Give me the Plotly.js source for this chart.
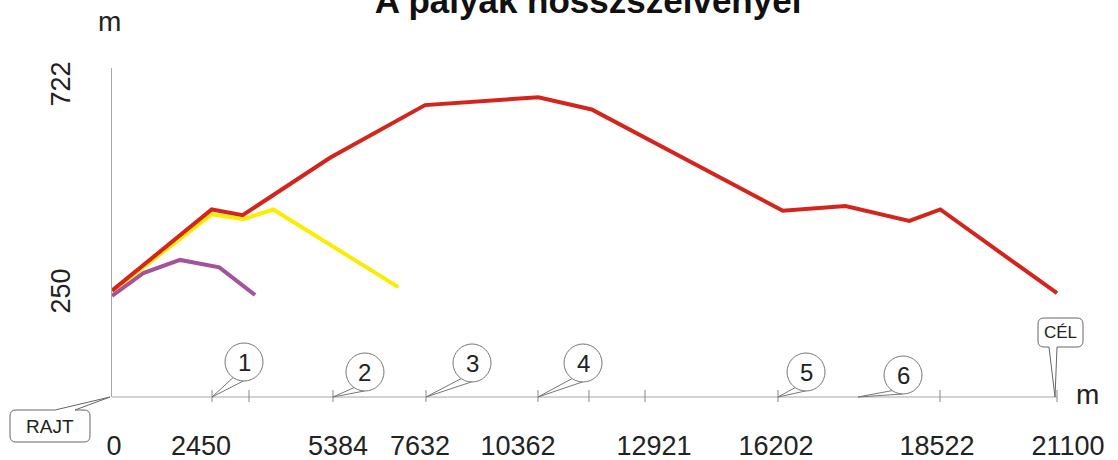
<!DOCTYPE html>
<html>
<head>
<meta charset="utf-8">
<script src="https://cdn.plot.ly/plotly-3.0.1.min.js"></script>
<style>html,body{margin:0;padding:0;background:#fff;}#chart{width:1118px;height:460px;}</style>
</head>
<body>
<div id="chart"></div>
<script>
// ---- data (distances along the drawn axis in m, elevations in m) ----
const redX    = [0, 2226, 2918, 4868, 6989, 9518, 10711, 14978, 16378, 17802, 18494, 21100];
const redY    = [260, 445, 432, 563, 683, 701, 673, 442, 453, 419, 445, 254];
const yellowX = [0, 2226, 2932, 3602, 6393];
const yellowY = [258, 434, 423, 445, 268];
const purpleX = [0, 699, 1518, 2396, 3193];
const purpleY = [248, 300, 330, 313, 250];

const xTickPos    = [45, 1987, 5046, 6877, 9065, 12102, 14826, 18421, 21345];
const xTickLabels = ['0', '2450', '5384', '7632', '10362', '12921', '16202', '18522', '21100'];
const yTickVals   = [250, 722];
const yTickLabels = ['250', '722'];

const axisMarks   = [2233, 3059, 4934, 7011, 9512, 10650, 11901, 14871, 18488];
const checkpoints = [2233, 4934, 7011, 9512, 14871, 16657];
const checkpointLabels = ['1', '2', '3', '4', '5', '6'];
const startLabel = 'RAJT';
const finishLabel = 'CÉL';
const finishX = 21100;

// ---- layout constants (pixel offsets of the callout balloons) ----
const balloonOffsets = [[32, 35], [32, 25], [46, 34], [45, 34], [28, 25], [45, 22]];
const balloonR = 19;
const FONT = 'Liberation Sans, Arial, sans-serif';
const TXT = '#222';
const AX = '#a8a8a8';

const traces = [
  {x: yellowX, y: yellowY, mode: 'lines', line: {color: '#fbec00', width: 4}, hoverinfo: 'skip'},
  {x: redX, y: redY, mode: 'lines', line: {color: '#d4251d', width: 4}, hoverinfo: 'skip'},
  {x: purpleX, y: purpleY, mode: 'lines', line: {color: '#a4529a', width: 4}, hoverinfo: 'skip'}
];

const shapes = [];
const annotations = [];

// x axis base line
shapes.push({type: 'line', xref: 'x', yref: 'paper', x0: 0, x1: finishX, y0: 0, y1: 0,
  line: {color: AX, width: 1.2}});
// small crossing marks on the axis
axisMarks.concat([finishX]).forEach(p => {
  shapes.push({type: 'line', xref: 'x', yref: 'paper', x0: p, x1: p,
    ysizemode: 'pixel', yanchor: 0, y0: -5, y1: 7, line: {color: '#888', width: 1}});
});
// numbered balloons
checkpoints.forEach((p, i) => {
  const [dx, dy] = balloonOffsets[i];
  const r = balloonR;
  shapes.push({type: 'circle', xref: 'x', yref: 'paper', xsizemode: 'pixel', ysizemode: 'pixel',
    xanchor: p, yanchor: 0, x0: dx - r, x1: dx + r, y0: dy - r, y1: dy + r,
    line: {color: '#777', width: 1}, fillcolor: 'rgba(255,255,255,0)'});
  const a1 = 235 * Math.PI / 180, a2 = 268 * Math.PI / 180;
  const p1 = [dx + r * Math.cos(a1), dy + r * Math.sin(a1)];
  const p2 = [dx + r * Math.cos(a2), dy + r * Math.sin(a2)];
  shapes.push({type: 'path', xref: 'x', yref: 'paper', xsizemode: 'pixel', ysizemode: 'pixel',
    xanchor: p, yanchor: 0,
    path: `M ${p1[0].toFixed(1)},${p1[1].toFixed(1)} L 0,0 L ${p2[0].toFixed(1)},${p2[1].toFixed(1)}`,
    line: {color: '#777', width: 1}});
  annotations.push({xref: 'x', yref: 'paper', x: p, y: 0, xshift: dx, yshift: dy,
    text: checkpointLabels[i], showarrow: false, xanchor: 'center', yanchor: 'middle',
    font: {family: FONT, size: 24, color: TXT}});
});

// RAJT balloon (paper-referenced so it is not clipped to the plot area)
(function () {
  const L = -102, R = -22, T = -13, B = -45, r = 6;
  const path = `M ${L + r},${T} L -57,${T} L -2,0 L -37,${T} L ${R - r},${T} Q ${R},${T} ${R},${T - r} ` +
    `L ${R},${B + r} Q ${R},${B} ${R - r},${B} L ${L + r},${B} Q ${L},${B} ${L},${B + r} ` +
    `L ${L},${T - r} Q ${L},${T} ${L + r},${T} Z`;
  shapes.push({type: 'path', xref: 'paper', yref: 'paper', xsizemode: 'pixel', ysizemode: 'pixel',
    xanchor: 0, yanchor: 0, path: path, line: {color: '#666', width: 1}});
  annotations.push({xref: 'paper', yref: 'paper', x: 0, y: 0, xshift: (L + R) / 2, yshift: (T + B) / 2,
    xanchor: 'center', yanchor: 'middle',
    text: startLabel, showarrow: false, font: {family: FONT, size: 19, color: TXT}});
})();

// CÉL balloon
(function () {
  const L = -19, R = 26, T = 79, B = 50, r = 6;
  const path = `M ${L + r},${T} L ${R - r},${T} Q ${R},${T} ${R},${T - r} L ${R},${B + r} Q ${R},${B} ${R - r},${B} ` +
    `L 0,${B} L -2,0 L -8,${B} L ${L + r},${B} Q ${L},${B} ${L},${B + r} L ${L},${T - r} Q ${L},${T} ${L + r},${T} Z`;
  shapes.push({type: 'path', xref: 'x', yref: 'paper', xsizemode: 'pixel', ysizemode: 'pixel',
    xanchor: finishX, yanchor: 0, path: path, line: {color: '#666', width: 1}});
  annotations.push({xref: 'x', yref: 'paper', x: finishX, y: 0, xshift: (L + R) / 2, yshift: (T + B) / 2,
    xanchor: 'center', yanchor: 'middle',
    text: finishLabel, showarrow: false, font: {family: FONT, size: 17, color: TXT}});
})();

// unit labels
annotations.push({xref: 'paper', yref: 'paper', x: (1087 - 112) / 976, y: 0, yshift: 3,
  text: 'm', showarrow: false, xanchor: 'center', yanchor: 'middle', font: {family: FONT, size: 28, color: TXT}});
annotations.push({xref: 'paper', yref: 'paper', x: (109 - 112) / 976, y: 1, yshift: 68 - 24 + 3,
  text: 'm', showarrow: false, xanchor: 'center', yanchor: 'middle', font: {family: FONT, size: 28, color: TXT}});

const layout = {
  width: 1118, height: 460,
  margin: {l: 112, r: 30, t: 68, b: 63},
  paper_bgcolor: '#fff', plot_bgcolor: '#fff',
  showlegend: false,
  title: {text: '<b>A pályák hosszszelvényei</b>', x: 0.526, xref: 'container', xanchor: 'center',
    y: 0.998, yref: 'container', yanchor: 'middle',
    font: {family: FONT, size: 35, color: '#111'}},
  xaxis: {range: [0, 976 / 0.044787], showgrid: false, zeroline: false, showline: false,
    tickmode: 'array', tickvals: xTickPos, ticktext: xTickLabels, ticks: '',
    ticklabelstandoff: 30, tickfont: {family: FONT, size: 27, color: TXT}, fixedrange: true},
  yaxis: {range: [17.4, 767.6], showgrid: false, zeroline: false, showline: true, linecolor: AX, linewidth: 1.2,
    tickmode: 'array', tickvals: yTickVals, ticktext: yTickLabels, ticks: '', tickangle: -90,
    ticklabelstandoff: 30, tickfont: {family: FONT, size: 27, color: TXT}, fixedrange: true},
  shapes: shapes,
  annotations: annotations
};

Plotly.newPlot('chart', traces, layout, {displayModeBar: false, staticPlot: true});
</script>
</body>
</html>
